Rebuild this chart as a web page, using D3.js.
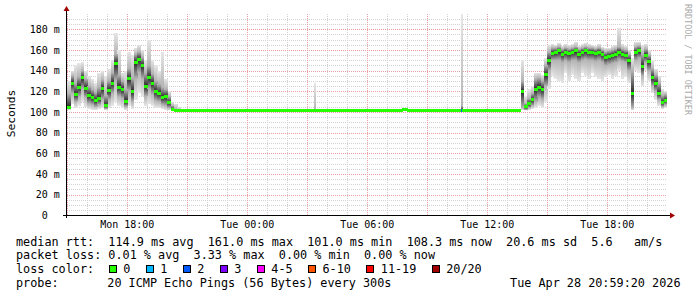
<!DOCTYPE html>
<html>
<head>
<meta charset="utf-8">
<script src="https://cdn.jsdelivr.net/npm/d3@7"></script>
<style>
  body { margin: 0; background: #fff; }
  text { font-family: "DejaVu Sans Mono", monospace; fill: #000; white-space: pre; }
</style>
</head>
<body>
<svg id="chart" width="697" height="297"></svg>
<script>
// smokeping style latency graph, 30 hours ending Tue Apr 28 20:59:20 2026

// sample start times (each sample lasts until the next one)
const stamps = [
  "Mon 15:00", "Mon 15:10", "Mon 15:20", "Mon 15:30", "Mon 15:40", "Mon 15:50",
  "Mon 16:00", "Mon 16:10", "Mon 16:20", "Mon 16:30", "Mon 16:40", "Mon 16:50",
  "Mon 17:00", "Mon 17:10", "Mon 17:20", "Mon 17:30", "Mon 17:40", "Mon 17:50",
  "Mon 18:00", "Mon 18:10", "Mon 18:20", "Mon 18:30", "Mon 18:40", "Mon 18:50",
  "Mon 19:00", "Mon 19:10", "Mon 19:20", "Mon 19:30", "Mon 19:40", "Mon 19:50",
  "Mon 20:00", "Mon 20:10", "Mon 20:20", "Mon 20:30",
  "Mon 20:40", "Tue 03:20", "Tue 03:25", "Tue 07:45", "Tue 08:00", "Tue 10:40", "Tue 10:45",
  "Tue 13:30", "Tue 13:40", "Tue 13:50", "Tue 14:00", "Tue 14:10", "Tue 14:20",
  "Tue 14:30", "Tue 14:40", "Tue 14:50", "Tue 15:00", "Tue 15:10", "Tue 15:20",
  "Tue 15:30", "Tue 15:40", "Tue 15:50", "Tue 16:00", "Tue 16:10", "Tue 16:20",
  "Tue 16:30", "Tue 16:40", "Tue 16:50", "Tue 17:00", "Tue 17:10", "Tue 17:20",
  "Tue 17:30", "Tue 17:40", "Tue 17:50", "Tue 18:00", "Tue 18:10", "Tue 18:20",
  "Tue 18:30", "Tue 18:40", "Tue 18:50", "Tue 19:00", "Tue 19:10", "Tue 19:20",
  "Tue 19:30", "Tue 19:40", "Tue 19:50", "Tue 20:00", "Tue 20:10", "Tue 20:20",
  "Tue 20:30", "Tue 20:40", "Tue 20:50"
];

// round trip times in ms
const median = [
  104.5, 128, 117, 124, 133, 123,
  116, 114, 111, 113, 123, 106,
  121, 128, 147, 124, 122, 110,
  132, 120, 148, 151, 145, 125,
  133, 128, 120, 118, 114, 115,
  109, 102.5, 101.5, 101.3,
  101.2, 101.2, 101.2, 102.3, 101.2, 101.6, 101.2,
  101.5, 120, 105, 108, 112, 122,
  124, 122, 136, 150, 157, 157.5,
  159, 156, 158, 157, 158, 159,
  156, 158, 159, 158, 158, 157,
  158, 156, 153, 154, 155, 156,
  158, 156, 155, 150, 118, 158,
  159, 144, 155, 149, 133, 128,
  118, 109, 111
];
const pingMin = [
  102, 108, 104, 106, 110, 105,
  103, 102, 102, 103, 104, 102,
  104, 106, 110, 106, 104, 102,
  106, 103, 112, 118, 115, 106,
  108, 106, 104, 104, 103, 102,
  101.5, 101.2, 101, 101,
  101, 101, 101, 101.8, 101, 101, 101,
  101, 101.5, 101.5, 102, 103, 104,
  106, 104, 110, 122, 135, 132,
  130, 128, 138, 130, 136, 132,
  130, 138, 135, 132, 138, 134,
  132, 130, 134, 136, 132, 135,
  140, 132, 134, 128, 101.5, 140,
  138, 125, 140, 130, 118, 112,
  106, 103, 104
];
const pingLow = [
  103, 118, 110, 115, 122, 114,
  108, 107, 105, 107, 112, 103,
  112, 118, 130, 115, 113, 105,
  120, 110, 132, 138, 132, 115,
  122, 117, 111, 110, 107, 106,
  104, 101.8, 101.2, 101.1,
  101.1, 101.1, 101.1, 102, 101.1, 101.3, 101.1,
  101.2, 104, 102, 104, 106, 110,
  114, 112, 125, 140, 150, 150,
  150, 148, 150, 148, 150, 150,
  148, 150, 151, 150, 150, 149,
  150, 148, 145, 146, 147, 148,
  150, 149, 148, 140, 104, 150,
  152, 135, 148, 140, 125, 120,
  112, 105, 107
];
const pingHigh = [
  118, 135, 128, 134, 140, 132,
  125, 122, 119, 124, 131, 116,
  130, 138, 156, 136, 130, 122,
  142, 133, 156, 158, 153, 138,
  145, 137, 130, 127, 124, 122,
  115, 106, 103, 102,
  101.4, 101.5, 101.4, 102.6, 101.4, 106, 101.4,
  102, 130, 108, 113, 118, 132,
  133, 130, 145, 158, 162, 162,
  163, 161, 162, 161, 162, 163,
  161, 162, 163, 162, 162, 161,
  162, 160, 158, 159, 160, 161,
  163, 161, 160, 156, 140, 163,
  164, 156, 161, 155, 142, 136,
  128, 116, 117
];
const pingMax = [
  130, 140, 145, 147, 148, 140,
  135, 132, 128, 138, 140, 135,
  142, 150, 176, 160, 138, 140,
  158, 155, 162, 165, 160, 150,
  170, 150, 145, 140, 158, 132,
  120, 110, 108, 105,
  101.8, 128, 101.8, 102.8, 101.8, 195, 101.8,
  103, 150, 115, 122, 125, 138,
  138, 136, 152, 165, 166, 165,
  167, 164, 166, 165, 166, 168,
  164, 166, 167, 166, 165, 164,
  166, 163, 162, 162, 164, 165,
  181, 166, 164, 160, 152, 168,
  168, 165, 166, 160, 150, 142,
  135, 122, 120
];

// samples that lost pings (out of 20)
const lossStamps = ["Tue 10:40"];
const lossCounts = [2];

const lossNames = ["0", "1", "2", "3", "4-5", "6-10", "11-19", "20/20"];
const lossUpper = [0, 1, 2, 3, 5, 10, 19, 20];
const lossColors = ["#26ff00", "#00b8ff", "#0059ff", "#7e00ff", "#ff00ff", "#ff5500", "#ff0000", "#a10000"];

const yTicks = [0, 20, 40, 60, 80, 100, 120, 140, 160, 180];
const xLabels = ["Mon 18:00", "Tue 00:00", "Tue 06:00", "Tue 12:00", "Tue 18:00"];

const legendLines = [
  "median rtt:  114.9 ms avg  161.0 ms max  101.0 ms min  108.3 ms now  20.6 ms sd  5.6   am/s",
  "packet loss: 0.01 % avg  3.33 % max  0.00 % min  0.00 % now"
];
const probeText = "20 ICMP Echo Pings (56 Bytes) every 300s";
const stampText = "Tue Apr 28 20:59:20 2026";

const parseStamp = (s) => {
  const [day, hm] = s.split(" ");
  const [h, m] = hm.split(":").map(Number);
  return new Date(2026, 3, day === "Tue" ? 28 : 27, h, m);
};

const startTime = new Date(2026, 3, 27, 14, 59, 20);
const endTime = new Date(2026, 3, 28, 20, 59, 20);

const plotLeft = 67, plotRight = 667, plotTop = 14, plotBottom = 215.3;

const svg = d3.select("#chart");

const xScale = d3.scaleTime().domain([startTime, endTime]).range([plotLeft, plotRight]);
const yScale = d3.scaleLinear().domain([0, 194.8]).range([plotBottom, plotTop]);

const crisp = (v) => Math.round(v) + 0.5;

// gradients for the smoke
const defs = svg.append("defs");
const addGrad = (id, c0, c1) => {
  const g = defs.append("linearGradient").attr("id", id)
    .attr("x1", 0).attr("y1", 0).attr("x2", 0).attr("y2", 1);
  g.append("stop").attr("offset", "0%").attr("stop-color", c0);
  g.append("stop").attr("offset", "100%").attr("stop-color", c1);
};
addGrad("outTop", "#e6e6e6", "#b4b4b4");
addGrad("inTop", "#b4b4b4", "#262626");
addGrad("inBot", "#262626", "#b4b4b4");
addGrad("outBot", "#b4b4b4", "#e6e6e6");

// grid
const grid = svg.append("g").attr("fill", "none").attr("stroke-dasharray", "1,1");

const minorY = d3.range(0, 195, 5).filter((v) => v % 20 !== 0);
grid.selectAll(".hmin").data(minorY).enter().append("line")
  .attr("x1", plotLeft).attr("x2", plotRight)
  .attr("y1", (d) => crisp(yScale(d))).attr("y2", (d) => crisp(yScale(d)))
  .attr("stroke", "#d2d2d2");

const hourTicks = xScale.ticks(d3.timeHour.every(1)).filter((d) => d.getHours() % 3 !== 0);
grid.selectAll(".vmin").data(hourTicks).enter().append("line")
  .attr("y1", plotTop).attr("y2", plotBottom)
  .attr("x1", (d) => crisp(xScale(d))).attr("x2", (d) => crisp(xScale(d)))
  .attr("stroke", "#d2d2d2");

grid.selectAll(".hmaj").data(yTicks.slice(1)).enter().append("line")
  .attr("x1", plotLeft).attr("x2", plotRight)
  .attr("y1", (d) => crisp(yScale(d))).attr("y2", (d) => crisp(yScale(d)))
  .attr("stroke", "#e8a0a0");

const majorTicks = xScale.ticks(d3.timeHour.every(3));
grid.selectAll(".vmaj").data(majorTicks).enter().append("line")
  .attr("y1", plotTop).attr("y2", plotBottom)
  .attr("x1", (d) => crisp(xScale(d))).attr("x2", (d) => crisp(xScale(d)))
  .attr("stroke", "#e8a0a0");

// samples
const lossOf = (s) => {
  const i = lossStamps.indexOf(s);
  return i < 0 ? 0 : lossCounts[i];
};
const samples = stamps.map((s, i) => {
  const t0 = parseStamp(s);
  const t1 = i < stamps.length - 1 ? parseStamp(stamps[i + 1]) : endTime;
  return {
    x0: xScale(t0), x1: xScale(t1),
    med: median[i], lo: pingMin[i], q1: pingLow[i], q3: pingHigh[i], hi: pingMax[i],
    loss: lossOf(s)
  };
});

const smoke = svg.append("g").attr("shape-rendering", "crispEdges");
const band = (from, to, grad) => {
  smoke.append("g").selectAll("rect").data(samples).enter().append("rect")
    .attr("x", (d) => d.x0)
    .attr("width", (d) => d.x1 - d.x0 + 0.4)
    .attr("y", (d) => yScale(d[to]))
    .attr("height", (d) => Math.max(0, yScale(d[from]) - yScale(d[to])))
    .attr("fill", `url(#${grad})`);
};
band("lo", "q1", "outBot");
band("q3", "hi", "outTop");
band("q1", "med", "inBot");
band("med", "q3", "inTop");

// median bars coloured by loss
const lossColor = (n) => lossColors[lossUpper.findIndex((u) => n <= u)];
svg.append("g").attr("shape-rendering", "crispEdges")
  .selectAll("rect").data(samples).enter().append("rect")
  .attr("x", (d) => d.x0)
  .attr("width", (d) => d.x1 - d.x0 + 0.4)
  .attr("y", (d) => yScale(d.med) - 1.5)
  .attr("height", 3)
  .attr("fill", (d) => lossColor(d.loss));

// axes
const axes = svg.append("g");
axes.append("line").attr("x1", 63).attr("x2", 670).attr("y1", 215.5).attr("y2", 215.5)
  .attr("stroke", "#000");
axes.append("line").attr("x1", 66.5).attr("x2", 66.5).attr("y1", 218).attr("y2", 11)
  .attr("stroke", "#000");
axes.append("path").attr("d", "M670,212.5 L675,215.5 L670,218.5 Z").attr("fill", "#a00000");
axes.append("path").attr("d", "M63.5,11 L66.5,6 L69.5,11 Z").attr("fill", "#a00000");

axes.selectAll(".ylab").data(yTicks).enter().append("text")
  .attr("x", (d) => (d === 0 ? 59.8 - 12.04 : 59.8))
  .attr("y", (d) => yScale(d))
  .attr("dy", "0.36em")
  .attr("text-anchor", "end")
  .style("font-size", "10px")
  .text((d) => (d === 0 ? "0" : d + " m"));

axes.selectAll(".xlab").data(xLabels).enter().append("text")
  .attr("x", (d) => xScale(parseStamp(d)))
  .attr("y", 228.3)
  .attr("text-anchor", "middle")
  .style("font-size", "10px")
  .text((d) => d);

svg.append("text")
  .attr("transform", "translate(15,113.5) rotate(-90)")
  .attr("text-anchor", "middle")
  .style("font-size", "11.3px")
  .text("Seconds");

svg.append("text")
  .attr("transform", "translate(685,4) rotate(90)")
  .style("font-size", "8.4px")
  .style("fill", "#aaaaaa")
  .text("RRDTOOL / TOBI OETIKER");

// legend
const charW = 7.1;
const legend = svg.append("g").style("font-size", "11.8px");
const addText = (x, y, s) => legend.append("text")
  .attr("xml:space", "preserve").attr("x", x).attr("y", y).text(s);
addText(16, 245.6, legendLines[0]);
addText(16, 259.2, legendLines[1]);
addText(16, 273.2, "loss color:");
addText(16, 286.8, "probe:");
addText(107.3, 286.8, probeText);
addText(680.5, 286.8, stampText).attr("text-anchor", "end");

let bx = 108.7;
lossNames.forEach((name, i) => {
  legend.append("rect")
    .attr("x", Math.round(bx) + 0.5).attr("y", 265.5)
    .attr("width", 7).attr("height", 7)
    .attr("fill", lossColors[i]).attr("stroke", "#000");
  addText(bx + 14.6, 273.2, name);
  bx += 14.6 + name.length * charW + 15.3;
});
</script>
</body>
</html>
